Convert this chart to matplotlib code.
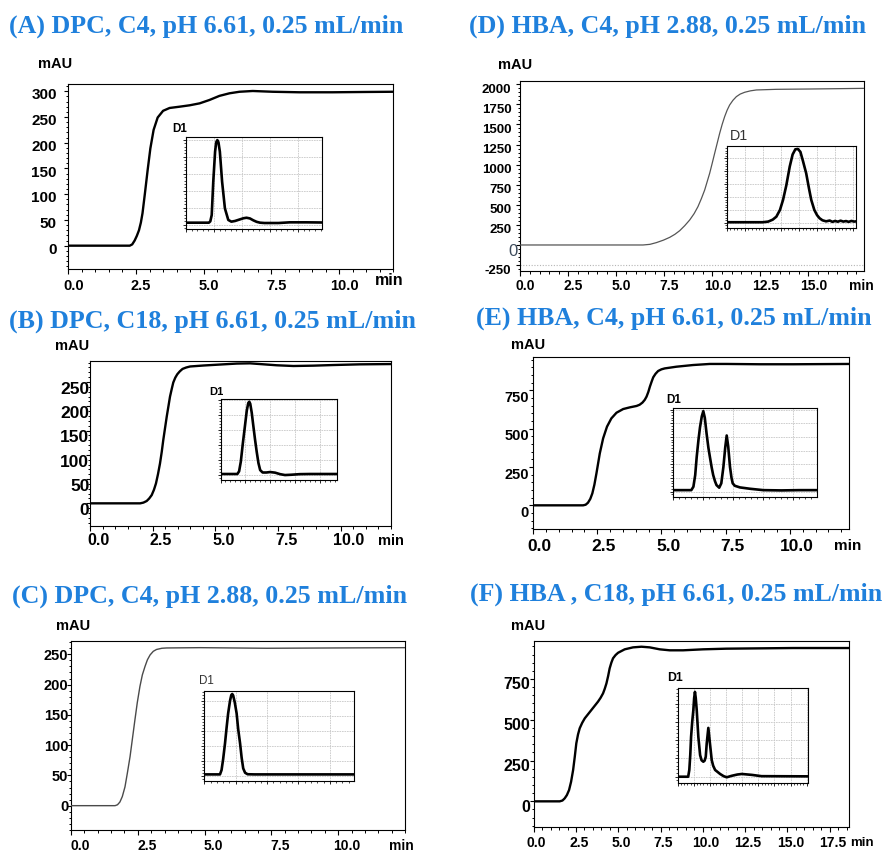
import matplotlib
matplotlib.use("Agg")
import matplotlib.pyplot as plt
from matplotlib.ticker import MultipleLocator, FixedLocator, NullFormatter
from matplotlib.transforms import ScaledTranslation, blended_transform_factory

W, H, DPI = 886, 852, 100
SANS = ["Liberation Sans", "DejaVu Sans"]
SERIF = ["Liberation Serif", "DejaVu Serif"]
TITLE_BLUE = "#1f80dc"

# ---------------------------------------------------------------- titles
titles = [
    "(A) DPC, C4, pH 6.61, 0.25 mL/min",
    "(B) DPC, C18, pH 6.61, 0.25 mL/min",
    "(C) DPC, C4, pH 2.88, 0.25 mL/min",
    "(D) HBA, C4, pH 2.88, 0.25 mL/min",
    "(E) HBA, C4, pH 6.61, 0.25 mL/min",
    "(F) HBA , C18, pH 6.61, 0.25 mL/min",
]

# ---------------------------------------------------------------- breakthrough traces (min, mAU)
a_time = [0, 2.27, 2.36, 2.45, 2.53, 2.61, 2.68, 2.74, 2.83, 2.93, 3.03, 3.15, 3.3, 3.5,
          3.74, 4.11, 4.48, 4.85, 5.21, 5.58, 5.95, 6.32, 6.81, 7.55, 8.53, 9.75, 10.98, 12.0]
a_mau = [0, 0, 2.5, 10, 19, 30, 45, 63, 102, 147, 189, 225, 249, 262,
         267.5, 270, 272.7, 276.5, 283, 291, 296, 299, 300.5, 299, 298, 298, 298.6, 299]

b_time = [0, 2.0, 2.13, 2.26, 2.36, 2.46, 2.55, 2.63, 2.71, 2.79, 2.86, 2.92, 3.0, 3.06,
          3.13, 3.19, 3.26, 3.32, 3.4, 3.48, 3.58, 3.69, 3.84, 3.99, 4.52, 5.18, 5.85,
          6.38, 6.91, 7.44, 8.11, 8.9, 9.7, 10.76, 12.0]
b_mau = [0, 0, 1.5, 4.8, 10, 17, 28, 41, 60, 82, 106, 130, 158, 179,
         201, 220, 236, 249, 259, 266, 272, 277, 280, 282, 284, 286, 288,
         288.5, 286.5, 284.5, 283, 283.7, 285, 286.4, 287]

c_time = [0, 1.65, 1.74, 1.83, 1.92, 2.02, 2.11, 2.21, 2.3, 2.39, 2.48, 2.58, 2.67,
          2.77, 2.86, 2.96, 3.08, 3.2, 3.4, 3.58, 4.83, 7.32, 9.8, 12.5]
c_mau = [0, 0, 1.5, 6, 15, 31, 54, 81, 111, 141, 170, 197, 216,
         230, 241, 249, 255, 258, 260, 260.5, 261, 260, 260.5, 261]

d_time = [0, 6.39, 6.75, 7.08, 7.45, 7.78, 8.05, 8.3, 8.56, 8.82, 9.05, 9.25, 9.43, 9.6,
          9.73, 9.86, 9.99, 10.12, 10.25, 10.38, 10.51, 10.64, 10.77, 10.9, 11.07, 11.25,
          11.45, 11.68, 11.98, 12.29, 13.33, 15.07, 17.88]
d_mau = [0, 0, 8, 29, 60, 95, 133, 178, 240, 311, 390, 477, 578, 684,
         788, 892, 1015, 1141, 1265, 1389, 1500, 1597, 1678, 1742, 1800, 1846,
         1878, 1900, 1918, 1929, 1937, 1941, 1949]

e_time = [0, 1.95, 2.05, 2.14, 2.23, 2.31, 2.39, 2.47, 2.6, 2.73, 2.88, 3.05, 3.25, 3.51,
          3.77, 4.03, 4.15, 4.26, 4.35, 4.42, 4.49, 4.55, 4.62, 4.68, 4.77, 4.87, 5.0,
          5.13, 5.58, 6.23, 6.88, 7.53, 8.83, 10.13, 12.3]
e_mau = [0, 0, 4, 17, 42, 78, 135, 209, 339, 437, 513, 567, 604, 628,
         639, 648, 656, 670, 688, 709, 740, 774, 808, 835, 858, 876, 887,
         893, 904, 915, 922, 922, 920, 920, 922]

f_time = [0, 1.54, 1.7, 1.83, 1.96, 2.09, 2.21, 2.33, 2.43, 2.52, 2.62, 2.72, 2.87, 3.02,
          3.41, 3.8, 3.95, 4.1, 4.2, 4.3, 4.4, 4.49, 4.59, 4.69, 4.84, 4.99, 5.38, 5.87,
          6.37, 6.86, 7.45, 8.04, 8.83, 10.01, 11.39, 13.36, 15.33, 18.64]
f_mau = [0, 0, 5, 18, 38, 69, 120, 192, 275, 356, 410, 448, 482, 509,
         560, 611, 634, 662, 690, 723, 768, 815, 850, 877, 897, 911, 932, 944,
         948, 944, 932, 926, 926, 932, 936, 938, 940, 940]

# ---------------------------------------------------------------- D1 detector insets (relative units)
a_d1_x = [0, 0.82, 0.87, 0.92, 0.975, 1.04, 1.08, 1.12, 1.16, 1.21, 1.29, 1.39, 1.51, 1.62,
          1.75, 1.9, 2.05, 2.16, 2.28, 2.4, 2.52, 2.64, 2.8, 3.3, 3.7, 4.3, 4.86]
a_d1_y = [0.12, 0.12, 0.2, 0.57, 2.53, 4.3, 4.85, 4.98, 4.85, 4.3, 2.53, 0.96, 0.28, 0.18,
          0.22, 0.3, 0.38, 0.41, 0.37, 0.26, 0.17, 0.12, 0.1, 0.1, 0.14, 0.14, 0.13]

b_d1_x = [0, 0.68, 0.75, 0.82, 0.9, 0.99, 1.06, 1.12, 1.16, 1.2, 1.26, 1.32, 1.39, 1.46,
          1.53, 1.6, 1.7, 1.85, 2.0, 2.2, 2.4, 2.6, 2.85, 3.2, 3.6, 4.71]
b_d1_y = [0.07, 0.07, 0.25, 0.9, 2.1, 3.33, 4.3, 4.8, 4.89, 4.75, 4.15, 3.33, 2.4, 1.55,
          0.8, 0.33, 0.17, 0.17, 0.2, 0.16, 0.06, 0.0, 0.02, 0.06, 0.07, 0.07]

c_d1_x = [0, 0.5, 0.55, 0.6, 0.66, 0.71, 0.76, 0.82, 0.86, 0.89, 0.92, 0.97, 1.03, 1.08,
          1.14, 1.19, 1.24, 1.3, 1.38, 1.6, 4.78]
c_d1_y = [0.09, 0.09, 0.38, 1.1, 2.16, 3.2, 4.16, 5.0, 5.38, 5.45, 5.35, 4.9, 4.16, 3.1,
          2.16, 1.2, 0.49, 0.2, 0.1, 0.09, 0.09]

d_d1_x = [0, 2.0, 2.3, 2.55, 2.75, 2.95, 3.12, 3.3, 3.49, 3.65, 3.8, 3.94, 4.08, 4.22,
          4.4, 4.55, 4.68, 4.85, 5.0, 5.14, 5.3, 5.5, 5.7, 5.85, 6.0, 6.15, 6.3, 6.45,
          6.6, 6.75, 6.9, 7.05, 7.17]
d_d1_y = [0.05, 0.05, 0.1, 0.25, 0.48, 1.0, 1.78, 2.9, 4.36, 5.3, 5.7, 5.73, 5.5, 4.8,
          3.84, 2.7, 1.78, 1.0, 0.6, 0.36, 0.2, 0.12, 0.18, 0.08, 0.15, 0.09, 0.17, 0.1,
          0.14, 0.08, 0.15, 0.1, 0.12]

e_d1_x = [0, 0.6, 0.67, 0.73, 0.78, 0.84, 0.89, 0.95, 1.0, 1.05, 1.11, 1.17, 1.22, 1.28,
          1.33, 1.39, 1.44, 1.53, 1.6, 1.67, 1.73, 1.78, 1.83, 1.89, 1.94, 1.98, 2.05,
          2.22, 2.56, 3.0, 3.6, 4.2, 4.78]
e_d1_y = [0.1, 0.1, 0.35, 1.2, 2.53, 3.8, 4.7, 5.5, 5.88, 5.4, 4.23, 3.2, 2.53, 1.75,
          1.2, 0.75, 0.47, 0.28, 0.6, 1.8, 3.2, 4.1, 3.3, 1.8, 1.0, 0.6, 0.42,
          0.3, 0.2, 0.1, 0.08, 0.1, 0.1]

f_d1_x = [0, 0.65, 0.72, 0.78, 0.83, 0.9, 0.97, 1.02, 1.07, 1.12, 1.18, 1.28, 1.39, 1.48,
          1.59, 1.67, 1.74, 1.8, 1.9, 2.0, 2.11, 2.2, 2.32, 2.63, 2.85, 3.04, 3.35, 3.7,
          3.98, 4.6, 5.2, 8.1]
f_d1_y = [0.0, 0.0, 0.37, 1.2, 2.18, 3.0, 3.64, 4.3, 4.64, 4.3, 3.64, 2.18, 1.18, 0.9,
          0.82, 0.88, 1.09, 1.82, 2.67, 1.82, 0.91, 0.6, 0.37, 0.15, 0.03, -0.03, 0.05, 0.12,
          0.15, 0.1, 0.03, 0.02]

# ---------------------------------------------------------------- tick values
x_ticks_12 = [0.0, 2.5, 5.0, 7.5, 10.0]
x_ticks_d = [0.0, 2.5, 5.0, 7.5, 10.0, 12.5, 15.0]
x_ticks_f = [0.0, 2.5, 5.0, 7.5, 10.0, 12.5, 15.0, 17.5]
y_ticks_a = [0, 50, 100, 150, 200, 250, 300]
y_ticks_bc = [0, 50, 100, 150, 200, 250]
y_ticks_d = [-250, 0, 250, 500, 750, 1000, 1250, 1500, 1750, 2000]
y_ticks_ef = [0, 250, 500, 750]


def rect(l, t, r, b):
    """Pixel box (left, top, right, bottom) -> figure fraction rectangle."""
    return [l / W, 1 - b / H, (r - l) / W, (b - t) / H]


def pt(px):
    return px * 72.0 / DPI


panels = [
    dict(box=(68.3, 84.3, 393.3, 269.3), xlim=(0, 12.0), ylim=(-45.9, 313.5),
         t=a_time, v=a_mau, xt=x_ticks_12, yt=y_ticks_a, xmin=0.5, ymin=10,
         color="black", lw=1.7, xfs=10.5, yfs=11, xdx=5, xgap=15.7, ydy=2.7, ygap=11.6,
         mau=(55, 62.7), minpos=(389.5, 279.3), minfs=11.5,
         title=(9, 25.8, 394),
         inset=(185.9, 136.7, 322.3, 229.3), ixlim=(0, 4.86), iylim=(-0.27, 5.18),
         ix=a_d1_x, iy=a_d1_y, d1=(172, 127.3, 8.4, "bold", "black")),
    dict(box=(90, 361, 391, 526), xlim=(0, 12.0), ylim=(-46.7, 293.3),
         t=b_time, v=b_mau, xt=x_ticks_12, yt=y_ticks_bc, xmin=0.5, ymin=10,
         color="black", lw=1.7, xfs=11.5, yfs=12.5, xdx=8, xgap=13.3, ydy=5.7, ygap=0.7,
         mau=(71.7, 345), minpos=(390.8, 539.3), minfs=10.5,
         title=(9.3, 320.8, 407),
         inset=(220.5, 399, 337.3, 480.3), ixlim=(0, 4.71), iylim=(-0.35, 5.07),
         ix=b_d1_x, iy=b_d1_y, d1=(209, 390.7, 8.0, "bold", "black")),
    dict(box=(71, 640.7, 405, 830), xlim=(0, 12.5), ylim=(-40.2, 272.5),
         t=c_time, v=c_mau, xt=x_ticks_12, yt=y_ticks_bc, xmin=0.5, ymin=10,
         color="#4a4a4a", lw=1.0, xfs=10, yfs=10.5, xdx=9, xgap=14.2, ydy=0, ygap=2.7,
         mau=(73.3, 625), minpos=(401.7, 844.2), minfs=10,
         title=(11.7, 595.8, 395),
         inset=(204.3, 690.7, 354.3, 780.7), ixlim=(0, 4.78), iylim=(-0.33, 5.67),
         ix=c_d1_x, iy=c_d1_y, d1=(199, 680, 8.4, "normal", "#333333")),
    dict(box=(520.3, 81, 863.7, 270.7), xlim=(0, 17.88), ylim=(-320, 2040.6),
         t=d_time, v=d_mau, xt=x_ticks_d, yt=y_ticks_d, xmin=0.5, ymin=50,
         color="#555555", lw=0.9, xfs=10, yfs=9.5, xdx=5, xgap=14.3, ydy=4.1, ygap=9,
         mau=(515.5, 63.3), minpos=(861.3, 285), minfs=10,
         title=(469, 25.8, 396),
         inset=(726.6, 145.7, 856.3, 228.3), ixlim=(0, 7.17), iylim=(-0.42, 5.98),
         ix=d_d1_x, iy=d_d1_y, d1=(729.7, 135, 10.3, "normal", "#333333")),
    dict(box=(533, 357.3, 849, 528.7), xlim=(0, 12.3), ylim=(-152.4, 965.4),
         t=e_time, v=e_mau, xt=x_ticks_12, yt=y_ticks_ef, xmin=0.5, ymin=50,
         color="black", lw=1.7, xfs=12.5, yfs=10.5, xdx=6.7, xgap=16.3, ydy=6.3, ygap=4,
         mau=(528, 343.3), minpos=(848, 545), minfs=11,
         title=(476.3, 318.3, 395),
         inset=(673.3, 408.3, 816.7, 496.7), ixlim=(0, 4.78), iylim=(-0.38, 6.09),
         ix=e_d1_x, iy=e_d1_y, d1=(666.7, 398.3, 8.4, "bold", "black")),
    dict(box=(533.7, 640.7, 849, 826.7), xlim=(0, 18.64), ylim=(-155.5, 984.9),
         t=f_time, v=f_mau, xt=x_ticks_f, yt=y_ticks_ef, xmin=0.5, ymin=50,
         color="black", lw=1.7, xfs=10, yfs=11.5, xdx=3, xgap=14.5, ydy=4.3, ygap=3.4,
         mau=(528, 625), minpos=(862, 841.2), minfs=9.5,
         title=(469.7, 594, 412.6),
         inset=(677.7, 687.7, 808.3, 783.3), ixlim=(0, 8.1), iylim=(-0.36, 4.87),
         ix=f_d1_x, iy=f_d1_y, d1=(667, 676.7, 8.8, "bold", "black")),
]

fig = plt.figure(figsize=(W / DPI, H / DPI), dpi=DPI, facecolor="white")
renderer = fig.canvas.get_renderer()


def fig_xy(x, y):
    return x / W, 1 - y / H


for p, title in zip(panels, titles):
    ax = fig.add_axes(rect(*p["box"]))
    ax.plot(p["t"], p["v"], color=p["color"], lw=p["lw"],
            solid_joinstyle="round", solid_capstyle="round", zorder=3)
    ax.set_xlim(*p["xlim"])
    ax.set_ylim(*p["ylim"])
    for s in ax.spines.values():
        s.set_linewidth(0.8)
    ax.xaxis.set_major_locator(FixedLocator(p["xt"]))
    ax.yaxis.set_major_locator(FixedLocator(p["yt"]))
    ax.xaxis.set_minor_locator(MultipleLocator(p["xmin"]))
    ax.yaxis.set_minor_locator(MultipleLocator(p["ymin"]))
    ax.xaxis.set_major_formatter(NullFormatter())
    ax.yaxis.set_major_formatter(NullFormatter())
    ax.tick_params(which="major", direction="out", length=pt(4.5), width=0.8)
    ax.tick_params(which="minor", direction="out", length=pt(2.5), width=0.7)

    # tick labels, drawn as text so their offsets from the ticks can be set
    xtr = blended_transform_factory(ax.transData, ax.transAxes) + ScaledTranslation(
        p["xdx"] / DPI, -p["xgap"] / DPI, fig.dpi_scale_trans)
    for xv in p["xt"]:
        ax.text(xv, 0, f"{xv:.1f}", transform=xtr, ha="center", va="center_baseline",
                fontsize=p["xfs"], fontweight="bold", family=SANS, clip_on=False)
    ytr = blended_transform_factory(ax.transAxes, ax.transData) + ScaledTranslation(
        -p["ygap"] / DPI, -p["ydy"] / DPI, fig.dpi_scale_trans)
    is_d = title.startswith("(D)")
    for yv in p["yt"]:
        if is_d and yv == 0:
            continue
        ax.text(0, yv, f"{yv:d}", transform=ytr, ha="right", va="center_baseline",
                fontsize=p["yfs"], fontweight="bold", family=SANS, clip_on=False)
    if is_d:
        ztr = blended_transform_factory(ax.transAxes, ax.transData) + ScaledTranslation(
            -7.3 / DPI, -5 / DPI, fig.dpi_scale_trans)
        ax.text(0, 0, "0", transform=ztr, ha="center", va="center_baseline",
                fontsize=12, color="#3d4b5c", family=SANS, clip_on=False)
        ax.axhline(-250, color="#b5b5b5", lw=0.8, ls=(0, (1, 1.5)), zorder=1)

    fig.text(*fig_xy(*p["mau"]), "mAU", ha="center", va="center_baseline",
             fontsize=10.5, fontweight="bold", family=SANS)
    fig.text(*fig_xy(*p["minpos"]), "min", ha="center", va="center_baseline",
             fontsize=p["minfs"], fontweight="bold", family=SANS)

    tx, ty, tw = p["title"]
    tt = fig.text(*fig_xy(tx, ty), title, ha="left", va="center", fontsize=17,
                  fontweight="bold", family=SERIF, color=TITLE_BLUE)
    w = tt.get_window_extent(renderer).width
    tt.set_fontsize(17 * tw / w)

    # D1 inset
    ia = fig.add_axes(rect(*p["inset"]))
    ia.set_facecolor("white")
    ia.plot(p["ix"], p["iy"], color="black", lw=1.9,
            solid_joinstyle="round", solid_capstyle="round", zorder=3)
    ia.set_xlim(*p["ixlim"])
    ia.set_ylim(*p["iylim"])
    ia.xaxis.set_major_locator(MultipleLocator(1))
    ia.yaxis.set_major_locator(MultipleLocator(1))
    ia.xaxis.set_minor_locator(MultipleLocator(0.2))
    ia.yaxis.set_minor_locator(MultipleLocator(0.2))
    ia.xaxis.set_major_formatter(NullFormatter())
    ia.yaxis.set_major_formatter(NullFormatter())
    ia.grid(True, which="major", color="#c8c8c8", lw=0.6, ls=(0, (2, 1)))
    ia.set_axisbelow(True)
    ia.tick_params(which="major", direction="out", length=pt(3), width=0.6)
    ia.tick_params(which="minor", direction="out", length=pt(2), width=0.5)
    for s in ia.spines.values():
        s.set_linewidth(0.8)
    dx, dy, dfs, dw, dc = p["d1"]
    fig.text(*fig_xy(dx, dy), "D1", ha="left", va="center_baseline", fontsize=dfs,
             fontweight=dw, color=dc, family=SANS)

fig.savefig("out.png", dpi=DPI, facecolor="white")
